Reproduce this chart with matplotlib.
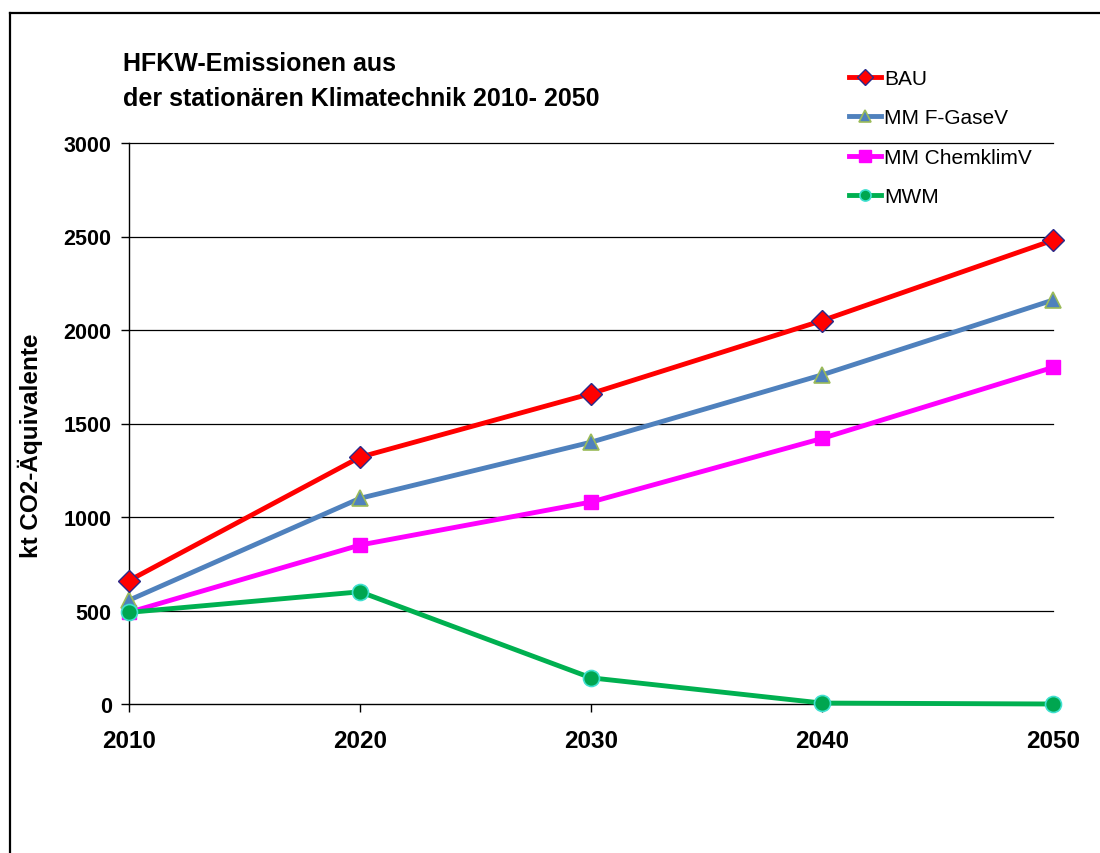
import matplotlib
matplotlib.use("Agg")
import matplotlib.pyplot as plt
from matplotlib.lines import Line2D

plt.rcParams['font.family'] = ['Liberation Sans', 'DejaVu Sans']

years = [2010, 2020, 2030, 2040, 2050]
bau = [660, 1320, 1660, 2050, 2480]
f_gasev = [555, 1100, 1400, 1760, 2160]
chemklimv = [490, 850, 1080, 1420, 1800]
mwm = [490, 600, 140, 5, 0]
series_labels = ["BAU", "MM F-GaseV", "MM ChemklimV", "MWM"]
y_ticks = [0, 500, 1000, 1500, 2000, 2500, 3000]
title_lines = ["HFKW-Emissionen aus", "der stationären Klimatechnik 2010- 2050"]
ylabel = "kt CO2-Äquivalente"

W, H = 1100, 854
fig = plt.figure(figsize=(W / 100, H / 100), dpi=100)

# outer frame (left and top edges visible)
fig.add_artist(Line2D([10 / W, 10 / W], [0, 1 - 14 / H], transform=fig.transFigure, color='black', lw=1.6))
fig.add_artist(Line2D([10 / W, 1], [1 - 14 / H, 1 - 14 / H], transform=fig.transFigure, color='black', lw=1.6))

left, right = 129 / W, 1053 / W
bottom, top = 1 - 705 / H, 1 - 144 / H
ax = fig.add_axes([left, bottom, right - left, top - bottom])

ax.set_xlim(2010, 2050)
ax.set_ylim(0, 3000)
ax.set_yticks(y_ticks)
ax.set_xticks(years)
ax.set_yticklabels([str(v) for v in y_ticks], fontsize=15.5, fontweight='bold')
ax.set_xticklabels([str(v) for v in years], fontsize=17.5, fontweight='bold')
ax.tick_params(axis='y', direction='out', length=6, width=1, pad=6.5)
ax.tick_params(axis='x', direction='out', length=6, width=1, pad=12)
for s in ['top', 'right']:
    ax.spines[s].set_visible(False)
ax.spines['left'].set_linewidth(1)
ax.spines['bottom'].set_linewidth(1)
for v in y_ticks[1:]:
    ax.axhline(v, color='black', lw=0.9, zorder=1, clip_on=False)

ax.set_ylabel(ylabel, fontsize=17.5, fontweight='bold')
ax.yaxis.set_label_coords(-0.093, 0.4617)

lw = 3.5
ax.plot(years, bau, color='#FF0000', lw=lw, marker='D', markersize=11,
        markerfacecolor='#FF0000', markeredgecolor='#2A2A8A', markeredgewidth=1,
        label=series_labels[0], clip_on=False, zorder=5)
ax.plot(years, f_gasev, color='#4F81BD', lw=lw, marker='^', markersize=11,
        markerfacecolor='#4F81BD', markeredgecolor='#9BBB59', markeredgewidth=1.2,
        label=series_labels[1], clip_on=False, zorder=4)
ax.plot(years, chemklimv, color='#FF00FF', lw=lw, marker='s', markersize=10,
        markerfacecolor='#FF00FF', markeredgecolor='#FF00FF', markeredgewidth=1,
        label=series_labels[2], clip_on=False, zorder=3)
ax.plot(years, mwm, color='#00B050', lw=lw, marker='o', markersize=11.5,
        markerfacecolor='#00A650', markeredgecolor='#40E0D0', markeredgewidth=1.2,
        label=series_labels[3], clip_on=False, zorder=6)

fig.text(123 / W, 1 - 71 / H, title_lines[0], fontsize=18, fontweight='bold',
         va='baseline', ha='left')
fig.text(123 / W, 1 - 106 / H, title_lines[1], fontsize=18, fontweight='bold',
         va='baseline', ha='left')

leg = ax.legend(loc='upper left', bbox_to_anchor=(849 / W, 1 - 70 / H),
                bbox_transform=fig.transFigure, frameon=False, fontsize=15,
                handlelength=1.55, handletextpad=0.15, labelspacing=0.98, borderpad=0,
                borderaxespad=0)
for h in leg.legend_handles:
    h.set_markersize(8)

fig.savefig("out.png", dpi=100)
